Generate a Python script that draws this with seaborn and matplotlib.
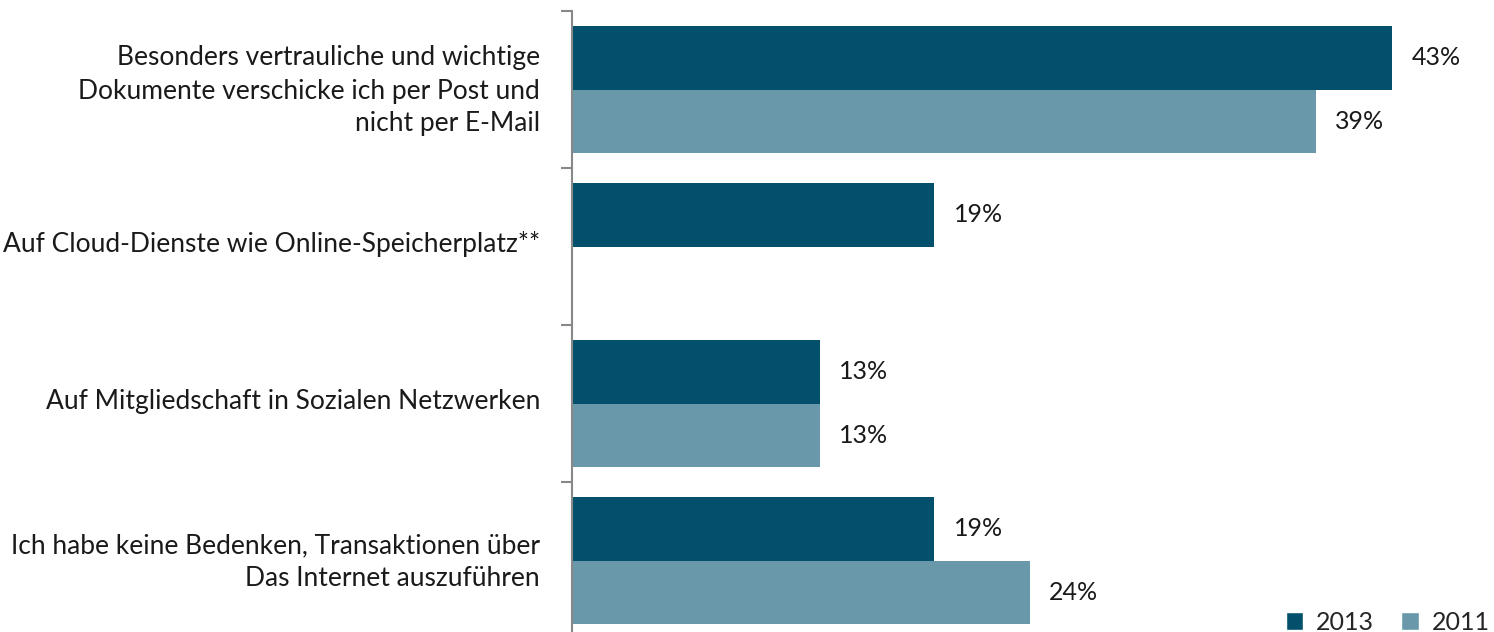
import matplotlib
matplotlib.use("Agg")
import matplotlib.pyplot as plt
import matplotlib.transforms as mtransforms
import seaborn as sns
import pandas as pd
import numpy as np
from matplotlib.patches import Patch

categories = [
    "Besonders vertrauliche und wichtige\nDokumente verschicke ich per Post und\nnicht per E-Mail",
    "Auf Cloud-Dienste wie Online-Speicherplatz**",
    "Auf Mitgliedschaft in Sozialen Netzwerken",
    "Ich habe keine Bedenken, Transaktionen über\nDas Internet auszuführen",
]
years = ["2013", "2011"]
values_2013 = [43, 19, 13, 19]
values_2011 = [39, np.nan, 13, 24]
colors = ["#02506C", "#6898A9"]

rows = []
for c, v13, v11 in zip(categories, values_2013, values_2011):
    rows.append((c, "2013", v13))
    rows.append((c, "2011", v11))
df = pd.DataFrame(rows, columns=["cat", "year", "value"]).dropna()

sns.set_style("white")
plt.rcParams["font.family"] = ["Lato", "DejaVu Sans"]

fig = plt.figure(figsize=(14.94, 6.32), dpi=100)
ax = fig.add_axes([572 / 1494, -7 / 632, 1 - 572 / 1494, 628 / 632])

sns.barplot(data=df, y="cat", x="value", hue="year", order=categories,
            hue_order=years, palette=colors, orient="h", width=0.815,
            saturation=1, ax=ax, legend=False, linewidth=0)

for cont in ax.containers:
    labels = [f"{v:.0f}%" for v in cont.datavalues]
    ax.bar_label(cont, labels=labels, padding=14, fontsize=18, color="#1a1a1a")

ax.set_xlim(0, 48.35)
ax.set_ylim(3.5, -0.5)
ax.set_xlabel("")
ax.set_ylabel("")
ax.set_xticks([])
ax.set_yticks(range(len(categories)))
ax.set_yticklabels(categories, fontsize=19, color="#1a1a1a", linespacing=1.4)
ax.tick_params(axis="y", which="major", length=0, pad=23)
ax.set_yticks(np.arange(-0.5, len(categories), 1.0), minor=True)
ax.tick_params(axis="y", which="minor", left=True, length=8, width=1.5,
               color="#888888", direction="out")
offset = mtransforms.ScaledTranslation(0, 5 / 100, fig.dpi_scale_trans)
for lbl in ax.get_yticklabels():
    lbl.set_multialignment("right")
    lbl.set_transform(lbl.get_transform() + offset)

for side in ["top", "right", "bottom"]:
    ax.spines[side].set_visible(False)
ax.spines["left"].set_color("#888888")
ax.spines["left"].set_linewidth(1.5)

handles = [Patch(facecolor=colors[i], label=years[i]) for i in range(2)]
fig.legend(handles=handles, loc="lower right", bbox_to_anchor=(1.012, -0.038),
           ncol=2, frameon=False, fontsize=18, handlelength=0.7, handleheight=0.7,
           columnspacing=1.1, handletextpad=0.5)

fig.savefig("out.png", dpi=100)
